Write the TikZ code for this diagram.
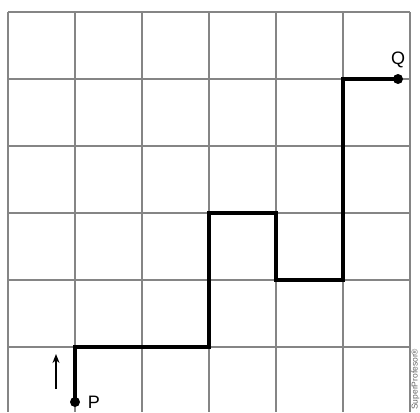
\documentclass[tikz,border=0pt]{standalone}
\usepackage{fontspec}
\setmainfont{Liberation Sans}
\usetikzlibrary{arrows.meta}
\begin{document}
\begin{tikzpicture}[x=1pt,y=-1pt,
  gridline/.style={draw=black!48,line width=1.9pt},
  route/.style={draw=black,line width=3.3pt,line join=miter},
  dotpt/.style={circle,fill=black,inner sep=0pt,minimum size=10pt},
  lbl/.style={font=\fontsize{18}{18}\selectfont},
  arr/.style={-{Stealth[length=9pt,width=7pt]},line width=1.9pt}]
\useasboundingbox (0,0) rectangle (420,412);
\foreach \x in {8,75,142,209,276,343,410} \draw[gridline] (\x,12) -- (\x,412);
\foreach \y in {12,79,146,213,280,347} \draw[gridline] (8,\y) -- (410,\y);
\node[dotpt] (P) at (75,402) {};
\node[dotpt] (Q) at (398,79) {};
\coordinate (c1) at (75,347);
\coordinate (c2) at (209,347);
\coordinate (c3) at (209,213);
\coordinate (c4) at (276,213);
\coordinate (c5) at (276,280);
\coordinate (c6) at (343,280);
\coordinate (c7) at (343,79);
\draw[route] (P.center) -- (c1) -- (c2) -- (c3) -- (c4) -- (c5) -- (c6) -- (c7) -- (Q.center);
\node[lbl] (Pl) at (94,402) {P};
\node[lbl] (Ql) at (398,60) {Q};
\coordinate (a1) at (56,389);
\coordinate (a2) at (56,354);
\draw[arr] (a1) -- (a2);
\node[rotate=90,text=black!60,font=\fontsize{8.5}{8.5}\selectfont,anchor=base west,inner sep=0pt] (wm) at (417.5,410) {SuperProfesor®};
\end{tikzpicture}
\end{document}
